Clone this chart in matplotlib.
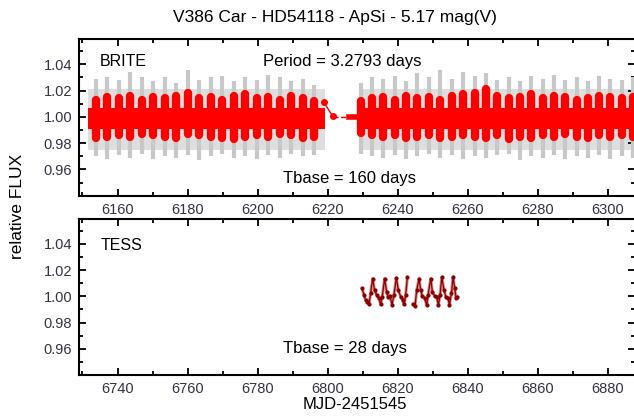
import numpy as np
import matplotlib
matplotlib.use("Agg")
import matplotlib.pyplot as plt
from matplotlib.ticker import MultipleLocator

plt.rcParams['font.family'] = ['Liberation Sans', 'DejaVu Sans']

# BRITE: one entry per rotation cycle (peak time, grey cloud and red binned extent)
brite_t = [6153.8, 6157.1, 6160.3, 6163.6, 6166.9, 6170.2, 6173.5, 6176.7, 6180.0, 6183.3,
           6186.6, 6189.9, 6193.1, 6196.4, 6199.7, 6203.0, 6206.3, 6209.5, 6212.8, 6216.1,
           6229.6, 6232.6, 6235.9, 6239.1, 6242.4, 6245.6, 6248.9, 6252.1, 6255.4, 6258.6,
           6261.9, 6265.1, 6268.4, 6271.6, 6274.9, 6278.1, 6281.4, 6284.6, 6287.8, 6291.0,
           6294.2, 6297.5, 6300.7, 6303.9, 6307.1]
grey_top = [1.029, 1.030, 1.028, 1.034, 1.030, 1.027, 1.030, 1.026, 1.036, 1.028,
            1.030, 1.031, 1.027, 1.030, 1.028, 1.032, 1.030, 1.027, 1.029, 1.024,
            1.026, 1.030, 1.029, 1.031, 1.027, 1.033, 1.030, 1.036, 1.029, 1.034,
            1.031, 1.033, 1.028, 1.030, 1.027, 1.031, 1.029, 1.032, 1.028, 1.030,
            1.027, 1.031, 1.029, 1.028, 1.030]
grey_bot = [0.970, 0.968, 0.971, 0.969, 0.972, 0.968, 0.970, 0.969, 0.971, 0.967,
            0.970, 0.972, 0.969, 0.970, 0.968, 0.971, 0.969, 0.972, 0.970, 0.971,
            0.972, 0.970, 0.969, 0.971, 0.968, 0.970, 0.972, 0.969, 0.971, 0.968,
            0.970, 0.969, 0.971, 0.972, 0.967, 0.970, 0.969, 0.971, 0.968, 0.970,
            0.969, 0.971, 0.968, 0.970, 0.969]
red_top = [1.013, 1.015, 1.014, 1.016, 1.013, 1.015, 1.014, 1.016, 1.018, 1.014,
           1.015, 1.013, 1.016, 1.017, 1.014, 1.015, 1.013, 1.016, 1.014, 1.012,
           1.012, 1.014, 1.015, 1.013, 1.016, 1.014, 1.015, 1.013, 1.016, 1.017,
           1.018, 1.021, 1.016, 1.014, 1.015, 1.017, 1.014, 1.016, 1.015, 1.013,
           1.014, 1.016, 1.015, 1.014, 1.015]
red_bot = [0.984, 0.985, 0.986, 0.985, 0.987, 0.986, 0.985, 0.984, 0.987, 0.986,
           0.985, 0.984, 0.983, 0.985, 0.986, 0.985, 0.987, 0.986, 0.984, 0.985,
           0.988, 0.986, 0.985, 0.986, 0.984, 0.985, 0.986, 0.984, 0.985, 0.986,
           0.985, 0.984, 0.986, 0.983, 0.985, 0.984, 0.986, 0.985, 0.987, 0.985,
           0.984, 0.986, 0.985, 0.986, 0.985]
# continuous data segments (start, end) and the dense middle of each cloud
brite_seg_start = [6151.6, 6228.9]
brite_seg_end = [6219.1, 6309.0]
grey_band = (0.975, 1.021)
red_band = (0.991, 1.007)
# bridge over the gap
gap_t = [6218.9, 6221.4]
gap_f = [1.011, 1.0005]
gap_dash_t = [6221.4, 6226.2]
gap_fill_t = [6226.2, 6229.0]
gap_level = 1.0

# TESS light curve
tess_t = [6809.84, 6810.32, 6810.80, 6811.27, 6811.75, 6812.23, 6812.80, 6813.37, 6813.94,
          6814.61, 6815.09, 6815.56, 6816.23, 6816.80, 6817.18, 6817.76, 6818.33, 6818.90,
          6819.57, 6820.14, 6820.81, 6821.38, 6821.76, 6822.24, 6822.72,
          np.nan,
          6824.43, 6824.91, 6825.39, 6826.05, 6826.53, 6827.01, 6827.68, 6828.25, 6828.63,
          6829.39, 6829.87, 6830.54, 6831.11, 6831.59, 6832.06, 6832.54, 6833.21, 6833.68,
          6834.35, 6834.72, 6835.30, 6835.77, 6836.25, 6836.63, 6837.01]
tess_f = [1.0060, 1.0010, 0.9973, 0.9960, 0.9938, 1.0023, 1.0136, 1.0047, 1.0010,
          0.9985, 0.9938, 0.9998, 1.0136, 1.0035, 0.9998, 1.0005, 0.9935, 1.0010,
          1.0140, 1.0050, 0.9998, 0.9973, 0.9938, 1.0010, 1.0144,
          np.nan,
          0.9940, 0.9926, 1.0047, 1.0136, 1.0047, 1.0000, 0.9985, 0.9931, 1.0010,
          1.0136, 1.0035, 1.0000, 0.9998, 0.9931, 1.0010, 1.0144, 1.0047, 0.9998,
          0.9985, 0.9931, 1.0023, 1.0149, 1.0060, 0.9985, 0.9998]

fig = plt.figure(figsize=(6.34, 4.17), dpi=100)
ax1 = fig.add_axes([0.1246, 0.5307, 0.877, 0.3751])
ax2 = fig.add_axes([0.1246, 0.1007, 0.877, 0.3741])

red = '#ff0000'

for s, e in zip(brite_seg_start, brite_seg_end):
    ax1.fill_between([s, e], grey_band[0], grey_band[1], color='#dedede', lw=0, zorder=1)
ax1.vlines(brite_t, grey_bot, grey_top, color='#c8c8c8', lw=3, zorder=2)

for s, e in zip(brite_seg_start, brite_seg_end):
    ax1.fill_between([s, e], red_band[0], red_band[1], color=red, lw=0, zorder=3)
ax1.vlines(brite_t, red_bot, red_top, color=red, lw=6, capstyle='round', zorder=4)

ax1.plot(gap_t, gap_f, '-o', color=red, lw=1, ms=4, zorder=4)
ax1.plot(gap_dash_t, [gap_level, gap_level], '--', color=red, lw=1, zorder=4)
ax1.plot(gap_fill_t, [gap_level, gap_level], '-', color=red, lw=4, zorder=4)

ax2.plot(tess_t, tess_f, '-', color='#c04040', lw=2.2, alpha=0.6, zorder=2)
ax2.plot(tess_t, tess_f, '-o', color='#8b0000', lw=0.9, ms=2, zorder=3)

ax1.set_xlim(6149.0, 6307.7)
ax2.set_xlim(6729.0, 6887.7)
for ax in (ax1, ax2):
    ax.set_ylim(0.94, 1.059)
    ax.xaxis.set_major_locator(MultipleLocator(20))
    ax.xaxis.set_minor_locator(MultipleLocator(10))
    ax.yaxis.set_minor_locator(MultipleLocator(0.01))
    ax.set_yticks([0.96, 0.98, 1.00, 1.02, 1.04])
    ax.set_yticklabels(['0.96', '0.98', '1.00', '1.02', '1.04'])
    ax.tick_params(which='both', direction='in', top=True, right=True, width=1.3,
                   labelsize=10.5, labelcolor='#333344', pad=5)
    ax.tick_params(which='major', length=5)
    ax.tick_params(which='minor', length=3)
    for sp in ax.spines.values():
        sp.set_linewidth(1.5)

ax1.text(0.038, 0.855, 'BRITE', transform=ax1.transAxes, fontsize=11.5, va='center')
ax1.text(0.331, 0.855, 'Period = 3.2793 days', transform=ax1.transAxes, fontsize=12, va='center')
ax1.text(0.367, 0.113, 'Tbase = 160 days', transform=ax1.transAxes, fontsize=12, va='center')
ax2.text(0.038, 0.83, 'TESS', transform=ax2.transAxes, fontsize=11.5, va='center')
ax2.text(0.367, 0.17, 'Tbase = 28 days', transform=ax2.transAxes, fontsize=12, va='center')

fig.text(0.528, 0.957, 'V386 Car - HD54118 - ApSi - 5.17 mag(V)', ha='center', va='center', fontsize=12.5)
fig.text(0.028, 0.505, 'relative FLUX', rotation=90, va='center', ha='center', fontsize=12.5)
fig.text(0.56, 0.03, 'MJD-2451545', ha='center', va='center', fontsize=12)

fig.savefig('out.png', dpi=100)
